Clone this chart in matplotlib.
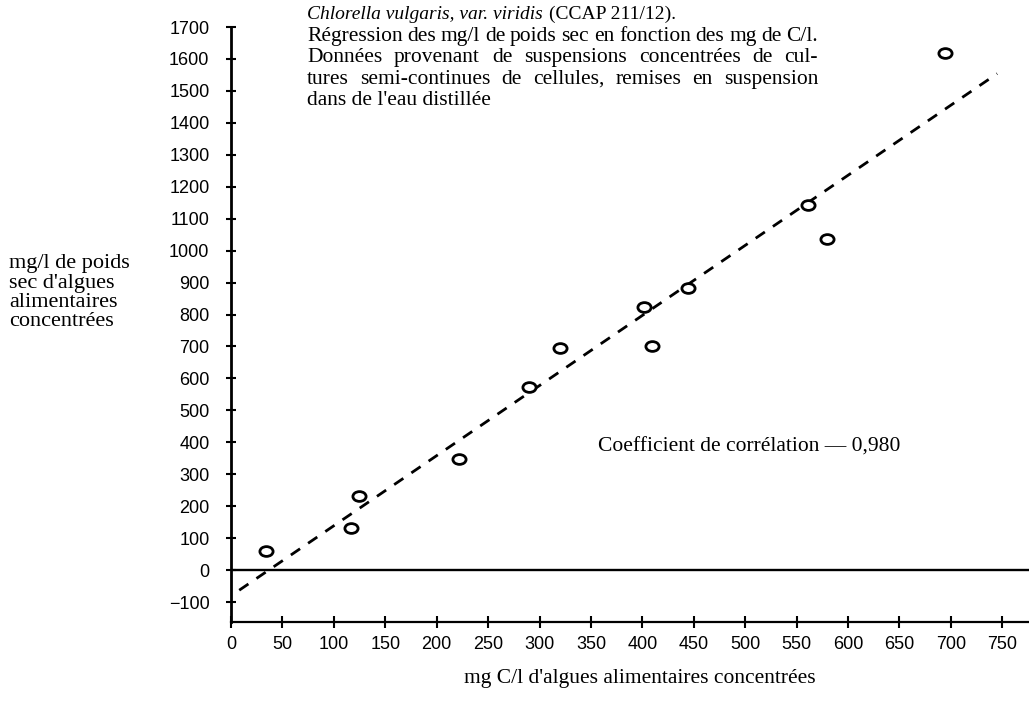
import numpy as np
import matplotlib
matplotlib.use("Agg")
import matplotlib.pyplot as plt
from matplotlib.path import Path
from matplotlib.transforms import Affine2D

# concentrated suspensions: mg C/l against mg/l dry weight
carbone = [34, 117, 124, 222, 290, 320, 402, 409, 444, 561, 580, 694]
poids_sec = [61, 133, 232, 348, 572, 695, 822, 700, 882, 1143, 1035, 1618]
x_ticks = list(range(0, 751, 50))
y_ticks = list(range(-100, 1701, 100))
droite_x = [8, 745]          # extent of the fitted line
correlation = "0,980"

titre_italique = "Chlorella vulgaris, var. viridis"
titre_suite = "(CCAP 211/12)."
paragraphe = [
    "Régression des mg/l de poids sec en fonction des mg de C/l.",
    "Données provenant de suspensions concentrées de cul-",
    "tures semi-continues de cellules, remises en suspension",
]
derniere_ligne = "dans de l'eau distillée"
label_y = ["mg/l de poids", "sec d'algues", "alimentaires", "concentrées"]
label_x = "mg C/l d'algues alimentaires concentrées"

W, H = 1029, 706
SERIF = ["Liberation Serif", "DejaVu Serif"]
SANS = ["Liberation Sans", "DejaVu Sans"]
plt.rcParams["font.family"] = SANS


def fx(px):
    return px / W


def fy(py):
    return 1 - py / H


fig = plt.figure(figsize=(W / 100, H / 100), dpi=100)
ax = fig.add_axes([fx(231), fy(621.5), 1 - fx(231), (621.5 - 27) / H])
ax.set_xlim(0, 776)
ax.set_ylim(-161, 1700)

for side in ("top", "right"):
    ax.spines[side].set_visible(False)
ax.spines["left"].set_linewidth(2.0)
ax.spines["bottom"].set_linewidth(1.6)
ax.set_xticks(x_ticks)
ax.set_yticks(y_ticks)
ax.tick_params(axis="both", direction="inout", colors="black", labelsize=13)
ax.tick_params(axis="y", length=7, width=1.5, pad=12)
ax.tick_params(axis="x", length=9, width=1.5, pad=6)

ax.axhline(0, color="black", lw=1.7)

# regression line from a least squares fit
coef = np.polyfit(carbone, poids_sec, 1)
xs = np.array(droite_x, dtype=float)
ax.plot(xs, np.polyval(coef, xs), color="black", lw=2.0,
        linestyle=(0, (4, 3.5)), solid_capstyle="butt")

# slightly flattened open rings
ring = Path.unit_circle().transformed(Affine2D().scale(1.35, 1.0))
ax.plot(carbone, poids_sec, linestyle="none", marker=ring, markersize=9.5,
        mfc="white", mec="black", mew=2.0, zorder=3)

renderer = fig.canvas.get_renderer()


def largeur(t):
    return t.get_window_extent(renderer).width


# heading block
size = 15.5
t1 = fig.text(fx(307), fy(19), titre_italique, family=SERIF, style="italic",
              fontsize=14, va="baseline")
fig.text(fx(307 + largeur(t1) + 6), fy(19), titre_suite, family=SERIF,
         fontsize=14, va="baseline")

x0, x1 = 307, 818
for i, ligne in enumerate(paragraphe):
    base = 41 + 21.3 * i
    mots = [fig.text(0, fy(base), m, family=SERIF, fontsize=size,
                     va="baseline") for m in ligne.split()]
    larg = [largeur(m) for m in mots]
    gap = (x1 - x0 - sum(larg)) / (len(mots) - 1)
    x = x0
    for m, w in zip(mots, larg):
        m.set_x(fx(x))
        x += w + gap
fig.text(fx(307), fy(41 + 21.3 * 3), derniere_ligne, family=SERIF,
         fontsize=size, va="baseline")

for i, ligne in enumerate(label_y):
    fig.text(fx(9), fy(268 + 19.5 * i), ligne, family=SERIF, fontsize=16,
             va="baseline")

fig.text(fx(640), fy(683), label_x, family=SERIF, fontsize=size,
         ha="center", va="baseline")
fig.text(fx(598), fy(452), "Coefficient de corrélation — " + correlation,
         family=SERIF, fontsize=size, va="baseline")

fig.savefig("out.png", dpi=100)
